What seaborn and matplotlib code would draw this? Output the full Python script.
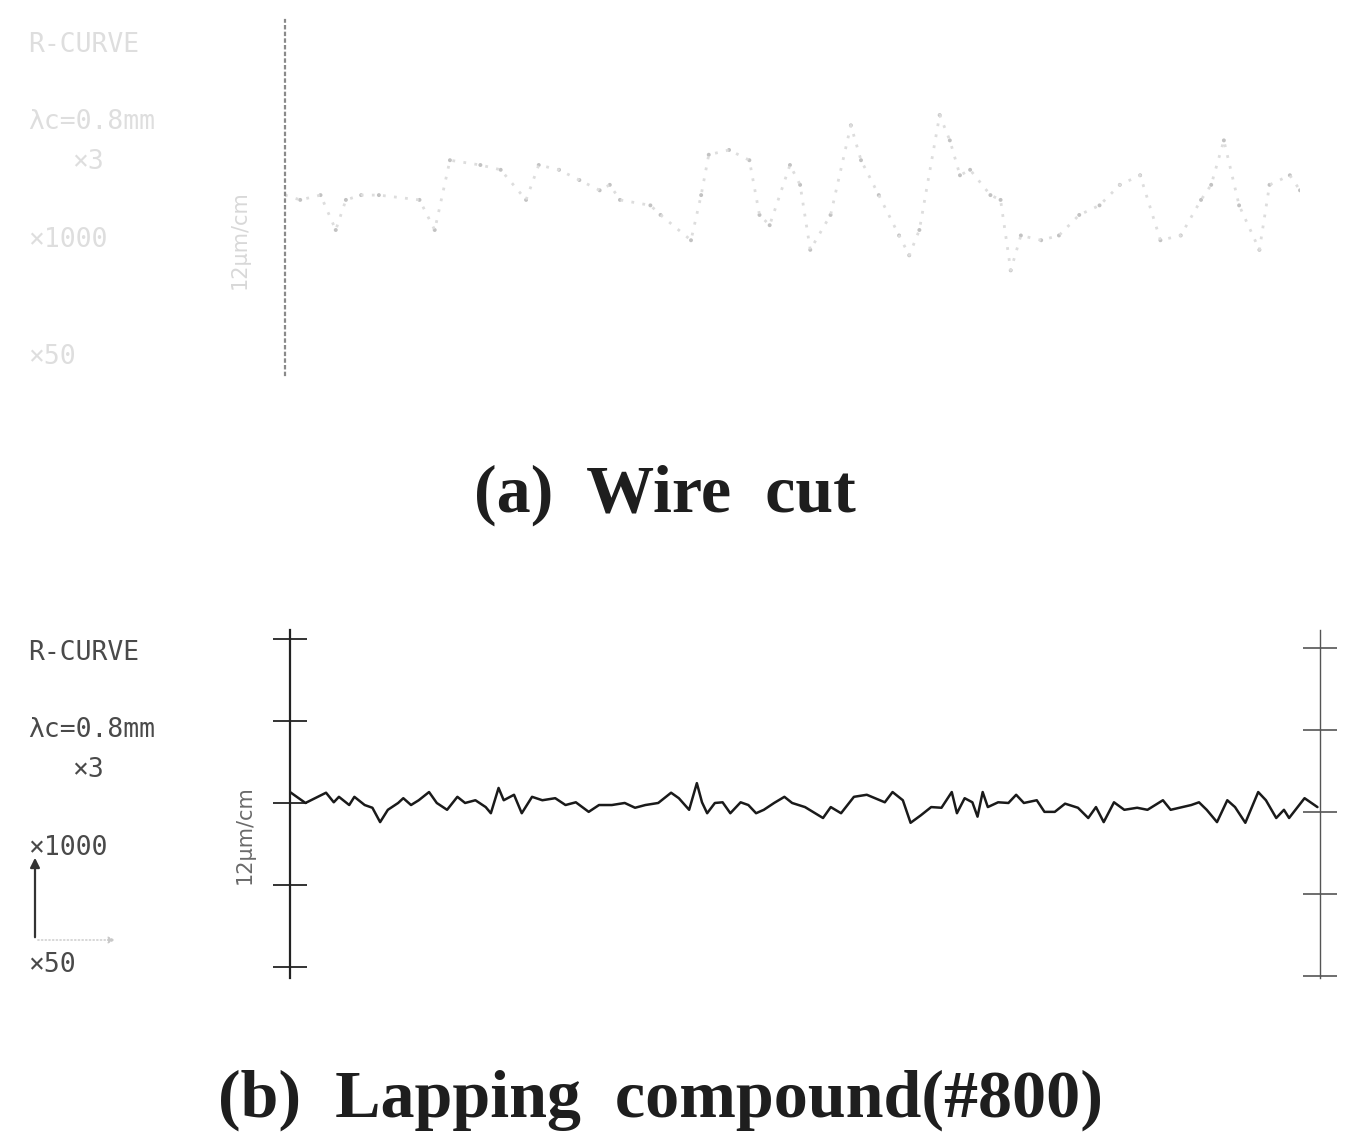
import matplotlib
matplotlib.use("Agg")
import matplotlib.pyplot as plt
import seaborn as sns
import pandas as pd

# profile (a) wire cut - faint dotted trace, x in mm, height in um
wire_x = [0.00, 0.06, 0.14, 0.20, 0.24, 0.30, 0.37, 0.53, 0.59, 0.65, 0.77, 0.85,
          0.95, 1.00, 1.08, 1.16, 1.24, 1.28, 1.32, 1.44, 1.48, 1.60, 1.64, 1.67,
          1.75, 1.83, 1.87, 1.91, 1.99, 2.03, 2.07, 2.15, 2.23, 2.27, 2.34, 2.42,
          2.46, 2.50, 2.58, 2.62, 2.66, 2.70, 2.78, 2.82, 2.86, 2.90, 2.98, 3.05,
          3.13, 3.21, 3.29, 3.37, 3.45, 3.53, 3.61, 3.65, 3.70, 3.76, 3.84, 3.88,
          3.96, 4.00]
wire_h = [0.0, -0.7, 0.0, -5.1, -0.7, 0.0, 0.0, -0.7, -5.1, 5.1, 4.4, 3.7,
          -0.7, 4.4, 3.7, 2.2, 0.7, 1.5, -0.7, -1.5, -2.9, -6.6, 0.0, 5.9,
          6.6, 5.1, -2.9, -4.4, 4.4, 1.5, -8.0, -2.9, 10.2, 5.1, 0.0, -5.9,
          -8.8, -5.1, 11.7, 8.0, 2.9, 3.7, 0.0, -0.7, -11.0, -5.9, -6.6, -5.9,
          -2.9, -1.5, 1.5, 2.9, -6.6, -5.9, -0.7, 1.5, 8.0, -1.5, -8.0, 1.5,
          2.9, 0.7]

# profile (b) lapping compound #800
lap_x = [0.00, 0.06, 0.14, 0.17, 0.19, 0.23, 0.25, 0.29, 0.32, 0.35, 0.38, 0.42,
         0.44, 0.47, 0.50, 0.54, 0.57, 0.61, 0.65, 0.68, 0.72, 0.76, 0.78, 0.81,
         0.83, 0.87, 0.89, 0.90, 0.94, 0.98, 1.03, 1.07, 1.11, 1.16, 1.20, 1.25,
         1.30, 1.34, 1.38, 1.43, 1.48, 1.51, 1.55, 1.58, 1.60, 1.62, 1.65, 1.68,
         1.71, 1.75, 1.78, 1.81, 1.84, 1.88, 1.92, 1.95, 2.00, 2.07, 2.10, 2.14,
         2.19, 2.24, 2.31, 2.34, 2.38, 2.41, 2.45, 2.49, 2.53, 2.57, 2.59, 2.62,
         2.65, 2.67, 2.69, 2.71, 2.75, 2.79, 2.82, 2.85, 2.90, 2.93, 2.97, 3.01,
         3.06, 3.10, 3.13, 3.16, 3.20, 3.24, 3.29, 3.33, 3.39, 3.42, 3.50, 3.53,
         3.56, 3.60, 3.64, 3.67, 3.71, 3.76, 3.79, 3.83, 3.86, 3.88, 3.94, 3.99]
lap_h = [1.6, 0.0, 1.5, 0.1, 0.9, -0.3, 0.9, -0.3, -0.7, -2.8, -1.0, 0.0,
         0.7, -0.3, 0.4, 1.6, 0.0, -1.0, 0.9, 0.0, 0.4, -0.6, -1.5, 2.2,
         0.4, 1.2, -0.6, -1.5, 0.9, 0.4, 0.7, -0.3, 0.1, -1.3, -0.3, -0.3,
         0.0, -0.7, -0.3, 0.0, 1.5, 0.7, -1.0, 2.9, 0.1, -1.5, 0.0, 0.1,
         -1.5, 0.1, -0.3, -1.5, -1.0, 0.0, 0.9, 0.0, -0.6, -2.2, -0.6, -1.5,
         0.9, 1.2, 0.1, 1.6, 0.4, -2.9, -1.8, -0.6, -0.7, 1.6, -1.5, 0.7,
         0.1, -2.0, 1.6, -0.6, 0.1, 0.0, 1.2, 0.0, 0.4, -1.3, -1.3, -0.1,
         -0.7, -2.2, -0.6, -2.8, 0.1, -1.0, -0.7, -1.0, 0.4, -1.0, -0.3, 0.1,
         -1.0, -2.8, 0.4, -0.6, -2.9, 1.6, 0.4, -2.2, -1.0, -2.2, 0.7, -0.6]

scale_ticks = [-24, -12, 0, 12, 24]
side_labels = ["R-CURVE", "λc=0.8mm", "×3", "×1000", "×50"]
scale_label = "12μm/cm"
titles = ["(a)  Wire  cut", "(b)  Lapping  compound(#800)"]

sns.set_style("white")
plt.rcParams['font.family'] = ['DejaVu Sans']

W, H = 1348, 1138
fig = plt.figure(figsize=(W / 100, H / 100), dpi=100)


def fx(px):
    return px / W


def fy(py):
    return 1 - py / H


def side_text(y0, color):
    mono = dict(family="DejaVu Sans Mono", fontsize=19, color=color, va="center")
    fig.text(fx(28), fy(y0), side_labels[0], **mono)
    fig.text(fx(28), fy(y0 + 77), side_labels[1], **mono)
    fig.text(fx(72), fy(y0 + 117), side_labels[2], **mono)
    fig.text(fx(28), fy(y0 + 195), side_labels[3], **mono)
    fig.text(fx(28), fy(y0 + 312), side_labels[4], **mono)


# ---- (a) wire cut, very faint scan ----
ax1 = fig.add_axes([fx(285), fy(375), fx(1300) - fx(285), 355 / H])
df_a = pd.DataFrame({"x": wire_x, "h": wire_h})
sns.lineplot(data=df_a, x="x", y="h", ax=ax1, color="#dddddd",
             linestyle=(0, (1, 3)), linewidth=2.0)
sns.scatterplot(data=df_a, x="x", y="h", ax=ax1, color="#c2c2c2", s=8,
                edgecolor="none")
ax1.set_xlim(0, 4.0)
ax1.set_ylim(-26.3, 25.6)
ax1.set_yticks(scale_ticks)
ax1.set_xticks([])
ax1.set_yticklabels([])
ax1.set_xlabel("")
ax1.set_ylabel("")
for s in ["top", "bottom", "right"]:
    ax1.spines[s].set_visible(False)
ax1.spines["left"].set_linestyle((0, (1, 2)))
ax1.spines["left"].set_color("#8a8a8a")
ax1.spines["left"].set_linewidth(1.6)
ax1.tick_params(axis="y", direction="inout", length=18, width=1, colors="#cccccc")
ax1.patch.set_alpha(0)

side_text(45, "#dedede")
fig.text(fx(240), fy(240), scale_label, rotation=90, fontsize=15,
         color="#d8d8d8", ha="center", va="center")

# ---- (b) lapping compound ----
ax2 = fig.add_axes([fx(290), fy(978), fx(1320) - fx(290), 348 / H])
df_b = pd.DataFrame({"x": lap_x, "h": lap_h})
sns.lineplot(data=df_b, x="x", y="h", ax=ax2, color="#1a1a1a", linewidth=1.8)
ax2.set_xlim(0, 4.0)
ax2.set_ylim(-25.6, 25.3)
ax2.set_yticks(scale_ticks)
ax2.set_xticks([])
ax2.set_yticklabels([])
ax2.set_xlabel("")
ax2.set_ylabel("")
for s in ["top", "bottom", "right"]:
    ax2.spines[s].set_visible(False)
ax2.spines["left"].set_color("#222222")
ax2.spines["left"].set_linewidth(1.6)
ax2.tick_params(axis="y", direction="inout", length=24, width=1.4, colors="#333333")
ax2.patch.set_alpha(0)

# right-hand reference scale, printed slightly lower on the scan
ax3 = ax2.twinx()
ax3.set_ylim(-25.6 + 1.3, 25.3 + 1.3)
ax3.set_yticks(scale_ticks)
ax3.set_yticklabels([])
for s in ["top", "bottom", "left"]:
    ax3.spines[s].set_visible(False)
ax3.spines["right"].set_color("#555555")
ax3.spines["right"].set_linewidth(1.0)
ax3.tick_params(axis="y", direction="inout", length=24, width=1.2, colors="#555555")

side_text(653, "#4a4a4a")
fig.text(fx(245), fy(835), scale_label, rotation=90, fontsize=15,
         color="#6a6a6a", ha="center", va="center")

# magnification arrows
fig.add_artist(matplotlib.patches.FancyArrowPatch(
    (fx(35), fy(940)), (fx(35), fy(855)), transform=fig.transFigure,
    arrowstyle="-|>", mutation_scale=14, color="#333333", lw=1.6))
fig.add_artist(matplotlib.patches.FancyArrowPatch(
    (fx(35), fy(940)), (fx(118), fy(940)), transform=fig.transFigure,
    arrowstyle="-|>", mutation_scale=10, color="#c8c8c8", lw=1.0,
    linestyle=":"))

# captions
cap = dict(family="Liberation Serif", fontweight="bold", fontsize=49,
           color="#1e1e1e", ha="center", va="center")
fig.text(fx(665), fy(495), titles[0], **cap)
fig.text(fx(660), fy(1100), titles[1], **cap)

fig.savefig("out.png", dpi=100, facecolor="white")
